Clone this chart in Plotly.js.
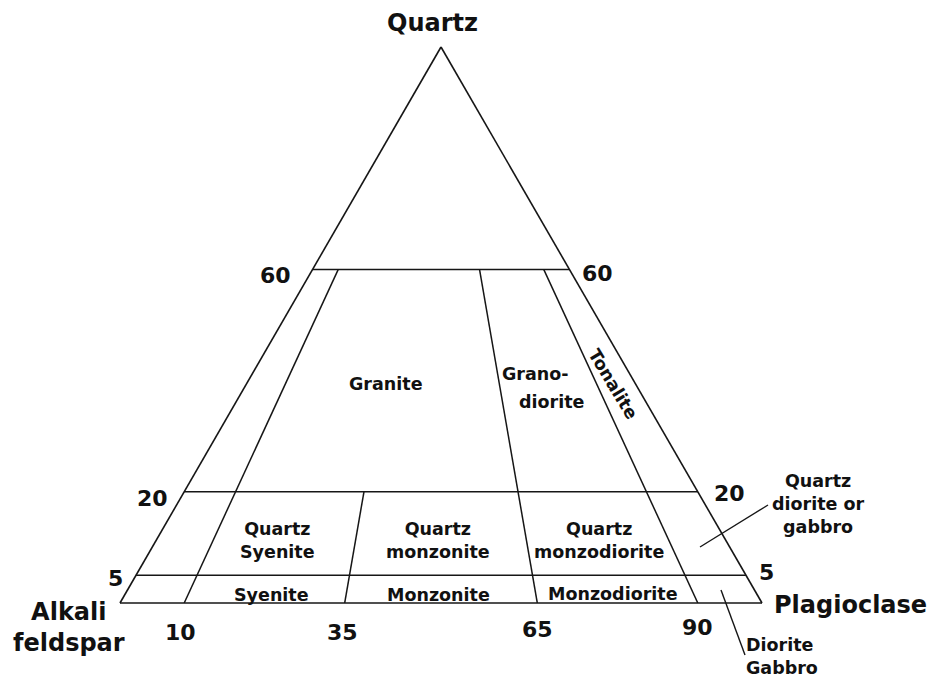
<!DOCTYPE html>
<html>
<head>
<meta charset="utf-8">
<script src="https://cdn.plot.ly/plotly-3.0.1.min.js"></script>
<style>html,body{margin:0;padding:0;background:#fff;}#chart{width:928px;height:679px;}</style>
</head>
<body>
<div id="chart"></div>
<script>
// ---- data ----
const cornerLabels = ['Quartz', 'Alkali<br>feldspar', 'Plagioclase'];
const quartzLevels = [60, 20, 5];               // Q % boundaries (horizontal lines)
const quartzTickLabels = ['60', '20', '5'];
const plagRatios = [10, 35, 65, 90];            // 100*P/(A+P) boundaries
const plagRatioTop = [60, 20, 60, 60];          // Q % where each ratio line stops
const plagTickLabels = ['10', '35', '65', '90'];
const fieldNames = ['Granite', 'Grano-', 'diorite', 'Tonalite',
  'Quartz<br>Syenite', 'Quartz<br>monzonite', 'Quartz<br>monzodiorite',
  'Syenite', 'Monzonite', 'Monzodiorite',
  'Quartz<br>diorite or<br>gabbro', 'Diorite<br>Gabbro'];

// ---- layout helpers (pixel -> paper) ----
const M = {l: 120, r: 166, t: 45, b: 74};
const PW = 928 - M.l - M.r, PH = 679 - M.t - M.b;
const px = x => (x - M.l) / PW;
const py = y => (679 - M.b - y) / PH;

const lineStyle = {color: '#161616', width: 1.5};
const traces = [];
// horizontal Q lines
quartzLevels.forEach(q => {
  traces.push({type: 'scatterternary', mode: 'lines',
    a: [q, q], b: [100 - q, 0], c: [0, 100 - q],
    line: lineStyle, hoverinfo: 'skip', showlegend: false});
});
// P/(A+P) ratio lines, converge toward Q apex
plagRatios.forEach((r, i) => {
  const qs = [0, plagRatioTop[i]];
  traces.push({type: 'scatterternary', mode: 'lines',
    a: qs, b: qs.map(q => (100 - q) * (1 - r / 100)), c: qs.map(q => (100 - q) * r / 100),
    line: lineStyle, hoverinfo: 'skip', showlegend: false});
});

const fontB = (s) => ({family: 'DejaVu Sans', size: s, color: '#111', weight: 'bold'});

const ann = [];
function addText(text, x, y, font, extra) {
  ann.push(Object.assign({text: text, x: px(x), y: py(y), xref: 'paper', yref: 'paper',
    showarrow: false, xanchor: 'center', yanchor: 'middle', font: font}, extra || {}));
}
// corner labels
const cornerPos = [[432, 23], [69, 627], [850, 605]];
cornerLabels.forEach((t, i) => addText(t, cornerPos[i][0], cornerPos[i][1], fontB(24)));
// Q tick labels (left and right sides)
const qLeft = [[275, 275], [152, 498], [115, 578]];
const qRight = [[597, 273], [729, 493], [766, 572]];
quartzTickLabels.forEach((t, i) => {
  addText(t, qLeft[i][0], qLeft[i][1], fontB(22));
  addText(t, qRight[i][0], qRight[i][1], fontB(22));
});
// ratio tick labels
const pPos = [[180, 632], [342, 632], [537, 629], [697, 627]];
plagTickLabels.forEach((t, i) => addText(t, pPos[i][0], pPos[i][1], fontB(22)));
// field names
const fieldPos = [[386, 384], [535, 374], [552, 402], [613, 384],
  [277, 540], [438, 540], [599, 540],
  [271, 595], [438, 595], [613, 594],
  [818, 504], [744, 656]];
fieldNames.forEach((t, i) => {
  const extra = {};
  if (t === 'Tonalite') extra.textangle = 59;
  if (t.indexOf('Diorite<br>') === 0) { extra.xanchor = 'left'; extra.align = 'left'; }
  addText(t, fieldPos[i][0], fieldPos[i][1], fontB(17.5), extra);
});

// leader lines
const leaders = [[700, 547, 768, 505], [721, 590, 745, 655]];
const shapes = leaders.map(s => ({type: 'line', xref: 'paper', yref: 'paper',
  x0: px(s[0]), y0: py(s[1]), x1: px(s[2]), y1: py(s[3]), line: {color: '#161616', width: 1.4}}));

const axisCommon = {showticklabels: false, showgrid: false, ticks: '', linecolor: '#161616',
  linewidth: 1.6, title: {text: ''}, min: 0};
const layout = {
  width: 928, height: 679, margin: M,
  paper_bgcolor: '#fff', plot_bgcolor: '#fff', showlegend: false,
  ternary: {sum: 100, bgcolor: '#fff', domain: {x: [0, 1], y: [0, 1]},
    aaxis: axisCommon, baxis: axisCommon, caxis: axisCommon},
  annotations: ann, shapes: shapes
};
Plotly.newPlot('chart', traces, layout, {displayModeBar: false, staticPlot: true});
</script>
</body>
</html>
